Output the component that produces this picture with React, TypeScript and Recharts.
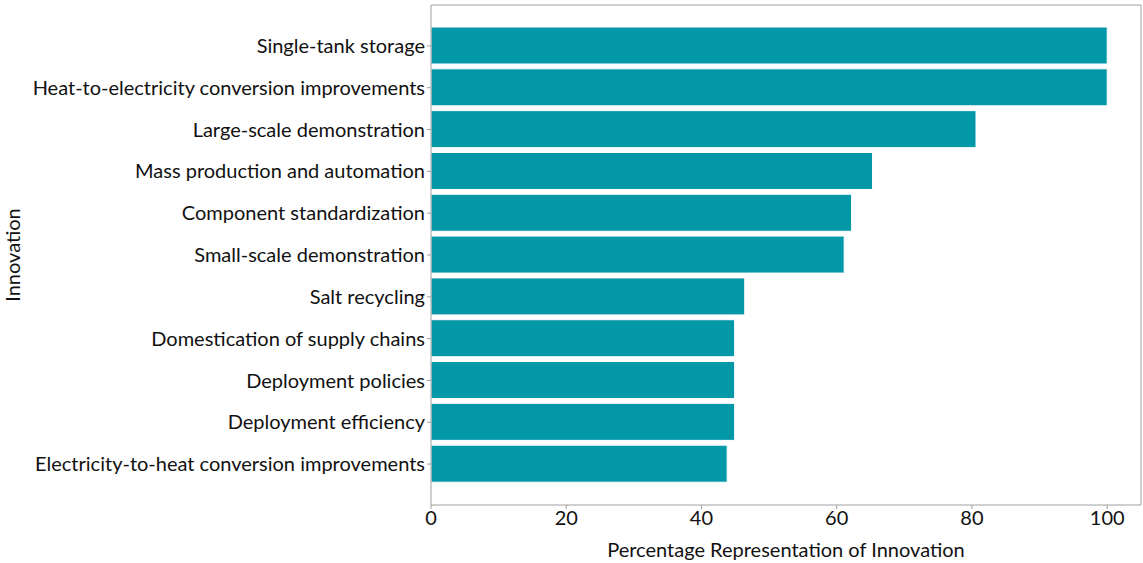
import { Bar, BarChart, XAxis, YAxis } from "recharts"

const innovations = [
  "Single-tank storage",
  "Heat-to-electricity conversion improvements",
  "Large-scale demonstration",
  "Mass production and automation",
  "Component standardization",
  "Small-scale demonstration",
  "Salt recycling",
  "Domestication of supply chains",
  "Deployment policies",
  "Deployment efficiency",
  "Electricity-to-heat conversion improvements",
]

const percentages = [100, 100, 80.6, 65.3, 62.2, 61.1, 46.4, 44.9, 44.9, 44.9, 43.8]

const xTicks = [0, 20, 40, 60, 80, 100]

const data = innovations.map((name, i) => ({ name, value: percentages[i] }))

const font = "Lato, 'Open Sans', sans-serif"
const axisGray = "#a0a0a0"
const textColor = "#111"

// y title drawn from the axis viewBox so it sits centred on the plot
const YTitle = (props: any) => {
  const vb = props.viewBox || {}
  const cx = 12
  const cy = vb.y + vb.height / 2
  return (
    <text x={cx} y={cy} transform={`rotate(-90, ${cx}, ${cy})`} textAnchor="middle" dominantBaseline="central" fill={textColor} fontSize={20} fontFamily={font}>
      Innovation
    </text>
  )
}

export default function App() {
  return (
    <div style={{ position: "absolute", left: 0, top: 0, fontFamily: font }}>
      <BarChart
        width={1143}
        height={563}
        data={data}
        layout="vertical"
        margin={{ top: 4, right: 1, bottom: 0, left: 0 }}
        barSize={37}
      >
        <XAxis
          type="number"
          domain={[0, 105]}
          ticks={xTicks}
          allowDataOverflow
          height={58}
          tickSize={4}
          stroke={axisGray}
          tick={{ fill: textColor, fontSize: 20, fontFamily: font }}
          label={{ value: "Percentage Representation of Innovation", position: "insideBottom", offset: 6, fill: textColor, fontSize: 20, fontFamily: font }}
        />
        <XAxis xAxisId="top" orientation="top" type="number" domain={[0, 105]} height={1} tick={false} tickLine={false} stroke={axisGray} />
        <YAxis
          type="category"
          dataKey="name"
          width={431}
          tickSize={4}
          padding={{ top: 20, bottom: 20 }}
          stroke={axisGray}
          tick={{ fill: textColor, fontSize: 20, fontFamily: font }}
          label={<YTitle />}
        />
        <YAxis yAxisId="right" orientation="right" type="number" domain={[0, 1]} width={1} tick={false} tickLine={false} stroke={axisGray} />
        <Bar dataKey="value" fill="#0398a8" stroke="#ffffff" strokeWidth={1} isAnimationActive={false} />
      </BarChart>
    </div>
  )
}
